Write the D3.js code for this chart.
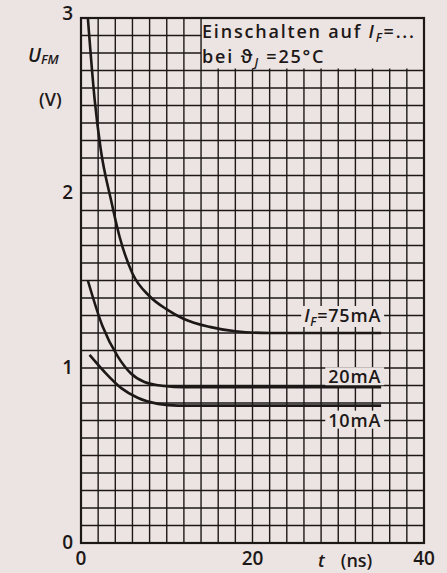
<!DOCTYPE html>
<html>
<head>
<meta charset="utf-8">
<script src="https://cdn.jsdelivr.net/npm/d3@7"></script>
<style>
  body { margin: 0; background: #ece4e2; }
  svg { display: block; }
  text { font-family: 'Open Sans', 'DejaVu Sans', sans-serif; font-weight: 600; fill: #1d1818; }
</style>
</head>
<body>
<script>
// values
var yTicks = [0, 1, 2, 3];
var xTicks = [0, 20, 40];

var t75 = [0.8, 1.6, 2.3, 3.5, 4.5, 6.0, 8.0, 10, 12, 15, 18, 22, 35];
var v75 = [3.0, 2.53, 2.25, 1.96, 1.75, 1.54, 1.41, 1.335, 1.28, 1.235, 1.21, 1.2, 1.2];

var t20 = [0.8, 2.5, 4.3, 5.8, 7.4, 9.7, 12, 35];
var v20 = [1.50, 1.24, 1.065, 0.97, 0.92, 0.897, 0.89, 0.89];

var t10 = [1.0, 2.7, 4.7, 6.6, 9.0, 11.3, 14, 35];
var v10 = [1.075, 0.98, 0.885, 0.83, 0.795, 0.785, 0.785, 0.785];

var curveLabels = ['=75mA', '20mA', '10mA'];

function zip(ts, vs) {
  return ts.map(function(t, i) {
    return { t: t, v: vs[i] };
  });
}

var series = [zip(t75, v75), zip(t20, v20), zip(t10, v10)];

var ink = '#1d1818';
var paper = '#ece4e2';

var svg = d3.select('body').append('svg')
  .attr('width', 447)
  .attr('height', 573);

var x = d3.scaleLinear().domain([0, 40]).range([81, 424]);
var y = d3.scaleLinear().domain([0, 3]).range([543, 18]);

// the note box sits in the top right corner: no grid there
var boxT = 14;
var boxV = 2.7;

var grid = svg.append('g')
  .attr('stroke', ink)
  .attr('stroke-width', 1.4);

grid.selectAll('line.v')
  .data(d3.range(2, 40, 2))
  .enter()
  .append('line')
  .attr('class', 'v')
  .attr('x1', function(d) { return x(d); })
  .attr('x2', function(d) { return x(d); })
  .attr('y1', y(0))
  .attr('y2', function(d) { return d > boxT ? y(boxV) - 2 : y(3); });

grid.selectAll('line.h')
  .data(d3.range(1, 30).map(function(i) { return i / 10; }))
  .enter()
  .append('line')
  .attr('class', 'h')
  .attr('y1', function(d) { return y(d); })
  .attr('y2', function(d) { return y(d); })
  .attr('x1', x(0))
  .attr('x2', function(d) { return d > boxV + 0.01 ? x(boxT) : x(40); });

svg.append('rect')
  .attr('x', x(0))
  .attr('y', y(3))
  .attr('width', x(40) - x(0))
  .attr('height', y(0) - y(3))
  .attr('fill', 'none')
  .attr('stroke', ink)
  .attr('stroke-width', 2.2);

// curve labels, with paper behind them so the grid breaks
var labelPos = [
  { t: 35, dy: -11 },
  { t: 35, dy: -4 },
  { t: 35, dy: 21 }
];

series.forEach(function(s, i) {
  var last = s[s.length - 1];
  var g = svg.append('g');
  var txt = g.append('text')
    .attr('x', x(labelPos[i].t))
    .attr('y', y(last.v) + labelPos[i].dy)
    .attr('text-anchor', 'end')
    .attr('font-size', 18)
    .attr('letter-spacing', 0.8);
  if (i === 0) {
    txt.append('tspan').attr('font-style', 'italic').text('I');
    txt.append('tspan').attr('font-style', 'italic').attr('font-size', 12).attr('dy', 4).text('F');
    txt.append('tspan').attr('dy', -4).text(curveLabels[i]);
  } else {
    txt.text(curveLabels[i]);
  }
  var bb = txt.node().getBBox();
  g.insert('rect', 'text')
    .attr('x', bb.x - 3)
    .attr('y', bb.y + 3)
    .attr('width', bb.width + 6)
    .attr('height', bb.height - 6)
    .attr('fill', paper);
});

var line = d3.line()
  .x(function(d) { return x(d.t); })
  .y(function(d) { return y(d.v); })
  .curve(d3.curveMonotoneX);

svg.selectAll('path.curve')
  .data(series)
  .enter()
  .append('path')
  .attr('class', 'curve')
  .attr('d', line)
  .attr('fill', 'none')
  .attr('stroke', ink)
  .attr('stroke-width', 2.6);

// tick labels
svg.selectAll('text.ytick')
  .data(yTicks)
  .enter()
  .append('text')
  .attr('class', 'ytick')
  .attr('x', 73)
  .attr('y', function(d) { return d === 3 ? y(d) + 2 : y(d) + 6; })
  .attr('text-anchor', 'end')
  .attr('font-size', 19)
  .text(function(d) { return d; });

svg.selectAll('text.xtick')
  .data(xTicks)
  .enter()
  .append('text')
  .attr('class', 'xtick')
  .attr('x', function(d) { return x(d); })
  .attr('y', 565)
  .attr('text-anchor', 'middle')
  .attr('font-size', 19)
  .text(function(d) { return d; });

// axis titles
var ut = svg.append('text')
  .attr('x', 28)
  .attr('y', 62)
  .attr('font-size', 19)
  .attr('font-style', 'italic');
ut.append('tspan').text('U');
ut.append('tspan').attr('font-size', 13).attr('dy', 2).text('FM');

svg.append('text')
  .attr('x', 39)
  .attr('y', 106)
  .attr('font-size', 18)
  .text('(V)');

var xt = svg.append('text')
  .attr('x', 318)
  .attr('y', 567)
  .attr('font-size', 18);
xt.append('tspan').attr('font-style', 'italic').text('t');
xt.append('tspan').attr('dx', 16).text('(ns)');

// note box text
var n1 = svg.append('text')
  .attr('x', 202)
  .attr('y', 38)
  .attr('font-size', 18)
  .attr('letter-spacing', 1.8);
n1.append('tspan').text('Einschalten auf ');
n1.append('tspan').attr('font-style', 'italic').text('I');
n1.append('tspan').attr('font-style', 'italic').attr('font-size', 12).attr('dy', 4).text('F');
n1.append('tspan').attr('dy', -4).text('=...');

var n2 = svg.append('text')
  .attr('x', 202)
  .attr('y', 63)
  .attr('font-size', 18)
  .attr('letter-spacing', 1.8);
n2.append('tspan').text('bei  ϑ');
n2.append('tspan').attr('font-style', 'italic').attr('font-size', 12).attr('dy', 4).text('J');
n2.append('tspan').attr('dy', -4).text(' =25°C');
</script>
</body>
</html>
